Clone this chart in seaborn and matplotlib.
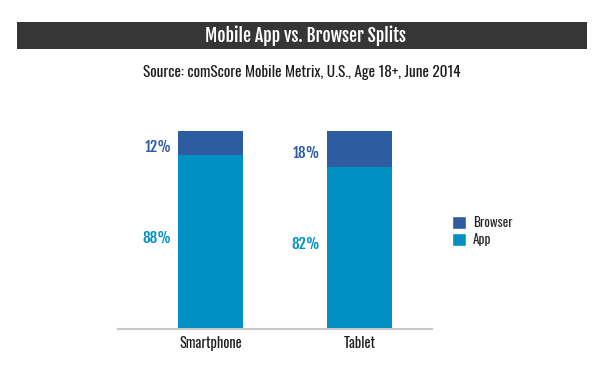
import matplotlib
matplotlib.use("Agg")
import matplotlib.pyplot as plt
import seaborn as sns
import pandas as pd
from matplotlib.patches import Rectangle, Patch

devices = ["Smartphone", "Tablet"]
app_share = [88, 82]
browser_share = [12, 18]

app_color = "#0090c4"
browser_color = "#2e5ca0"
bold_font = ["Fjalla One", "DejaVu Sans"]

sns.set_style("white")
plt.rcParams["font.family"] = ["Oswald", "DejaVu Sans"]

df = pd.DataFrame({"device": devices, "app": app_share, "browser": browser_share})
df["total"] = df["app"] + df["browser"]

fig = plt.figure(figsize=(6.08, 3.8), dpi=100)
ax = fig.add_axes([118 / 608, 51 / 380, 314 / 608, 198 / 380])

bw = 0.436
sns.barplot(data=df, x="device", y="total", color=browser_color, width=bw,
            saturation=1, linewidth=0, ax=ax)
sns.barplot(data=df, x="device", y="app", color=app_color, width=bw,
            saturation=1, linewidth=0, ax=ax)

ax.set_xlim(-0.621, 1.487)
ax.set_ylim(0, 100)
ax.set_xlabel("")
ax.set_ylabel("")
ax.set_yticks([])
ax.tick_params(axis="x", length=0, pad=5, labelsize=10.3, colors="#1e1e1e")
for s in ["top", "right", "left"]:
    ax.spines[s].set_visible(False)
ax.spines["bottom"].set_color("#c8c8c8")
ax.spines["bottom"].set_linewidth(1.5)

# percentage labels to the left of each segment
for i, (a, b) in enumerate(zip(app_share, browser_share)):
    xl = i - bw / 2 - 0.045
    ax.text(xl, a + b - b / 2 - 2, f"{b}%", ha="right", va="center",
            fontsize=10.8, family=bold_font, color=browser_color)
    ax.text(xl, a / 2 + 2, f"{a}%", ha="right", va="center",
            fontsize=10.8, family=bold_font, color=app_color)

# title bar
fig.patches.append(Rectangle((17 / 608, 1 - 49 / 380), 570 / 608, 27 / 380,
                             transform=fig.transFigure, facecolor="#363636",
                             edgecolor="none"))
fig.text(305 / 608, 1 - 35.5 / 380, "Mobile App vs. Browser Splits", ha="center",
         va="center", color="white", fontsize=12.8, family=bold_font)
fig.text(302 / 608, 1 - 72 / 380,
         "Source: comScore Mobile Metrix, U.S., Age 18+, June 2014",
         ha="center", va="center", color="#1e1e1e", fontsize=11)

handles = [Patch(facecolor=browser_color, label="Browser"),
           Patch(facecolor=app_color, label="App")]
fig.legend(handles=handles, loc="center left",
           bbox_to_anchor=(440 / 608, 1 - 231 / 380), frameon=False,
           fontsize=9.5, handlelength=1.1, handleheight=1.1,
           handletextpad=0.5, labelspacing=0.3)

fig.savefig("out.png", dpi=100)
